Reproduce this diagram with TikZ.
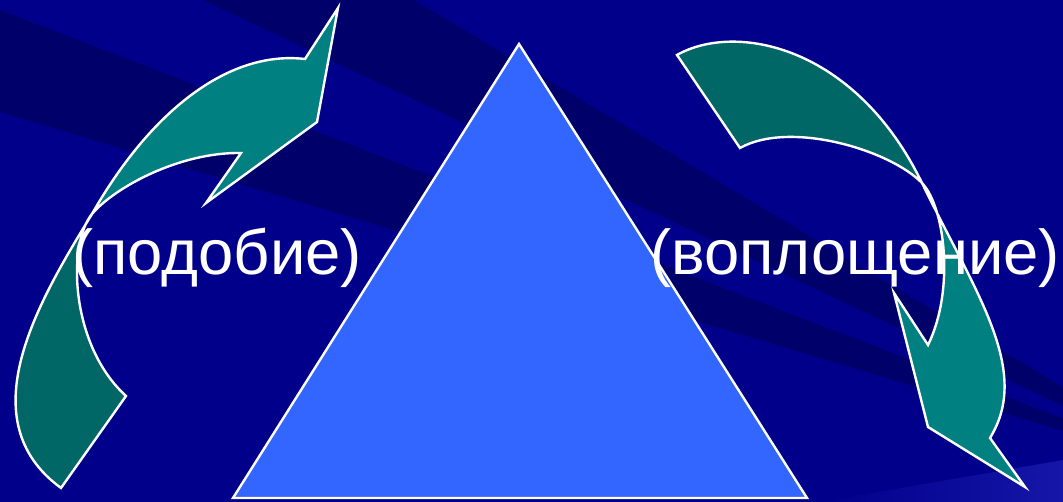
\documentclass[tikz,border=0pt]{standalone}
\usepackage{fontspec}
\setmainfont{Liberation Sans}
\usepackage{xcolor}
\usepackage{tikz}
\usetikzlibrary{calc}
\definecolor{bgblue}{RGB}{0,0,138}
\definecolor{bgdark}{RGB}{0,0,106}
\definecolor{glow}{RGB}{22,22,168}
\definecolor{tri}{RGB}{51,102,255}
\definecolor{tealfront}{RGB}{0,128,128}
\definecolor{tealback}{RGB}{0,102,102}

\begin{document}
\begin{tikzpicture}[x=0.75pt, y=-0.75pt,
    lobe/.style={draw=white, line width=1.8pt, line join=miter},
    word/.style={text=white, anchor=base, inner sep=0pt, font=\fontsize{47.5}{56}\selectfont}]
  \useasboundingbox (0,0) rectangle (1063,502);
  \clip (0,0) rectangle (1063,502);
  \fill[bgblue] (0,0) rectangle (1063,502);
  \coordinate (F) at (1210,475);
  \fill[bgdark] (0,10) -- (F) -- (0,112) -- cycle;
  \fill[bgdark] (203,0) -- (414,0) -- (F) -- cycle;
  \shade[left color=bgblue, right color=glow] (820,502) -- (1063,460) -- (1063,502) -- cycle;

  \filldraw[fill=tri, lobe] (519,44) -- (233,498) -- (807,498) -- cycle;

  \coordinate (P1) at (338,8);
  \coordinate (N1) at (305,59);
  \coordinate (X1) at (92,214);
  \coordinate (T1) at (61,488);
  \coordinate (E1) at (126,396);
  \coordinate (M1) at (241,153);
  \coordinate (B1) at (206,203);
  \coordinate (H1) at (317,122);
  \filldraw[fill=tealback, lobe] (X1) .. controls (38,302) and (-32,420) .. (T1) -- (E1)
    .. controls (70,345) and (67,244) .. (X1) -- cycle;
  \filldraw[fill=tealfront, lobe] (N1) .. controls (228,50) and (150,112) .. (X1)
    .. controls (115,187) and (180,152) .. (M1) -- (B1) -- (H1) -- (P1) -- cycle;

  \coordinate (A2) at (677,55);
  \coordinate (C2) at (740,148);
  \coordinate (X2) at (922,183);
  \coordinate (N2) at (990,438);
  \coordinate (P2) at (1025,487);
  \coordinate (H2) at (928,427);
  \coordinate (B2) at (894,293);
  \coordinate (M2) at (928,345);
  \filldraw[fill=tealback, lobe] (A2) .. controls (735,22) and (855,45) .. (X2)
    .. controls (890,150) and (790,120) .. (C2) -- cycle;
  \filldraw[fill=tealfront, lobe] (X2) .. controls (975,292) and (1032,370) .. (N2)
    -- (P2) -- (H2) -- (B2) -- (M2) .. controls (955,290) and (945,207) .. (X2) -- cycle;

  \node[word] (podobie) at (217,274) {(подобие)};
  \node[word] (voploshchenie) at (855,274) {(воплощение)};
\end{tikzpicture}
\end{document}
